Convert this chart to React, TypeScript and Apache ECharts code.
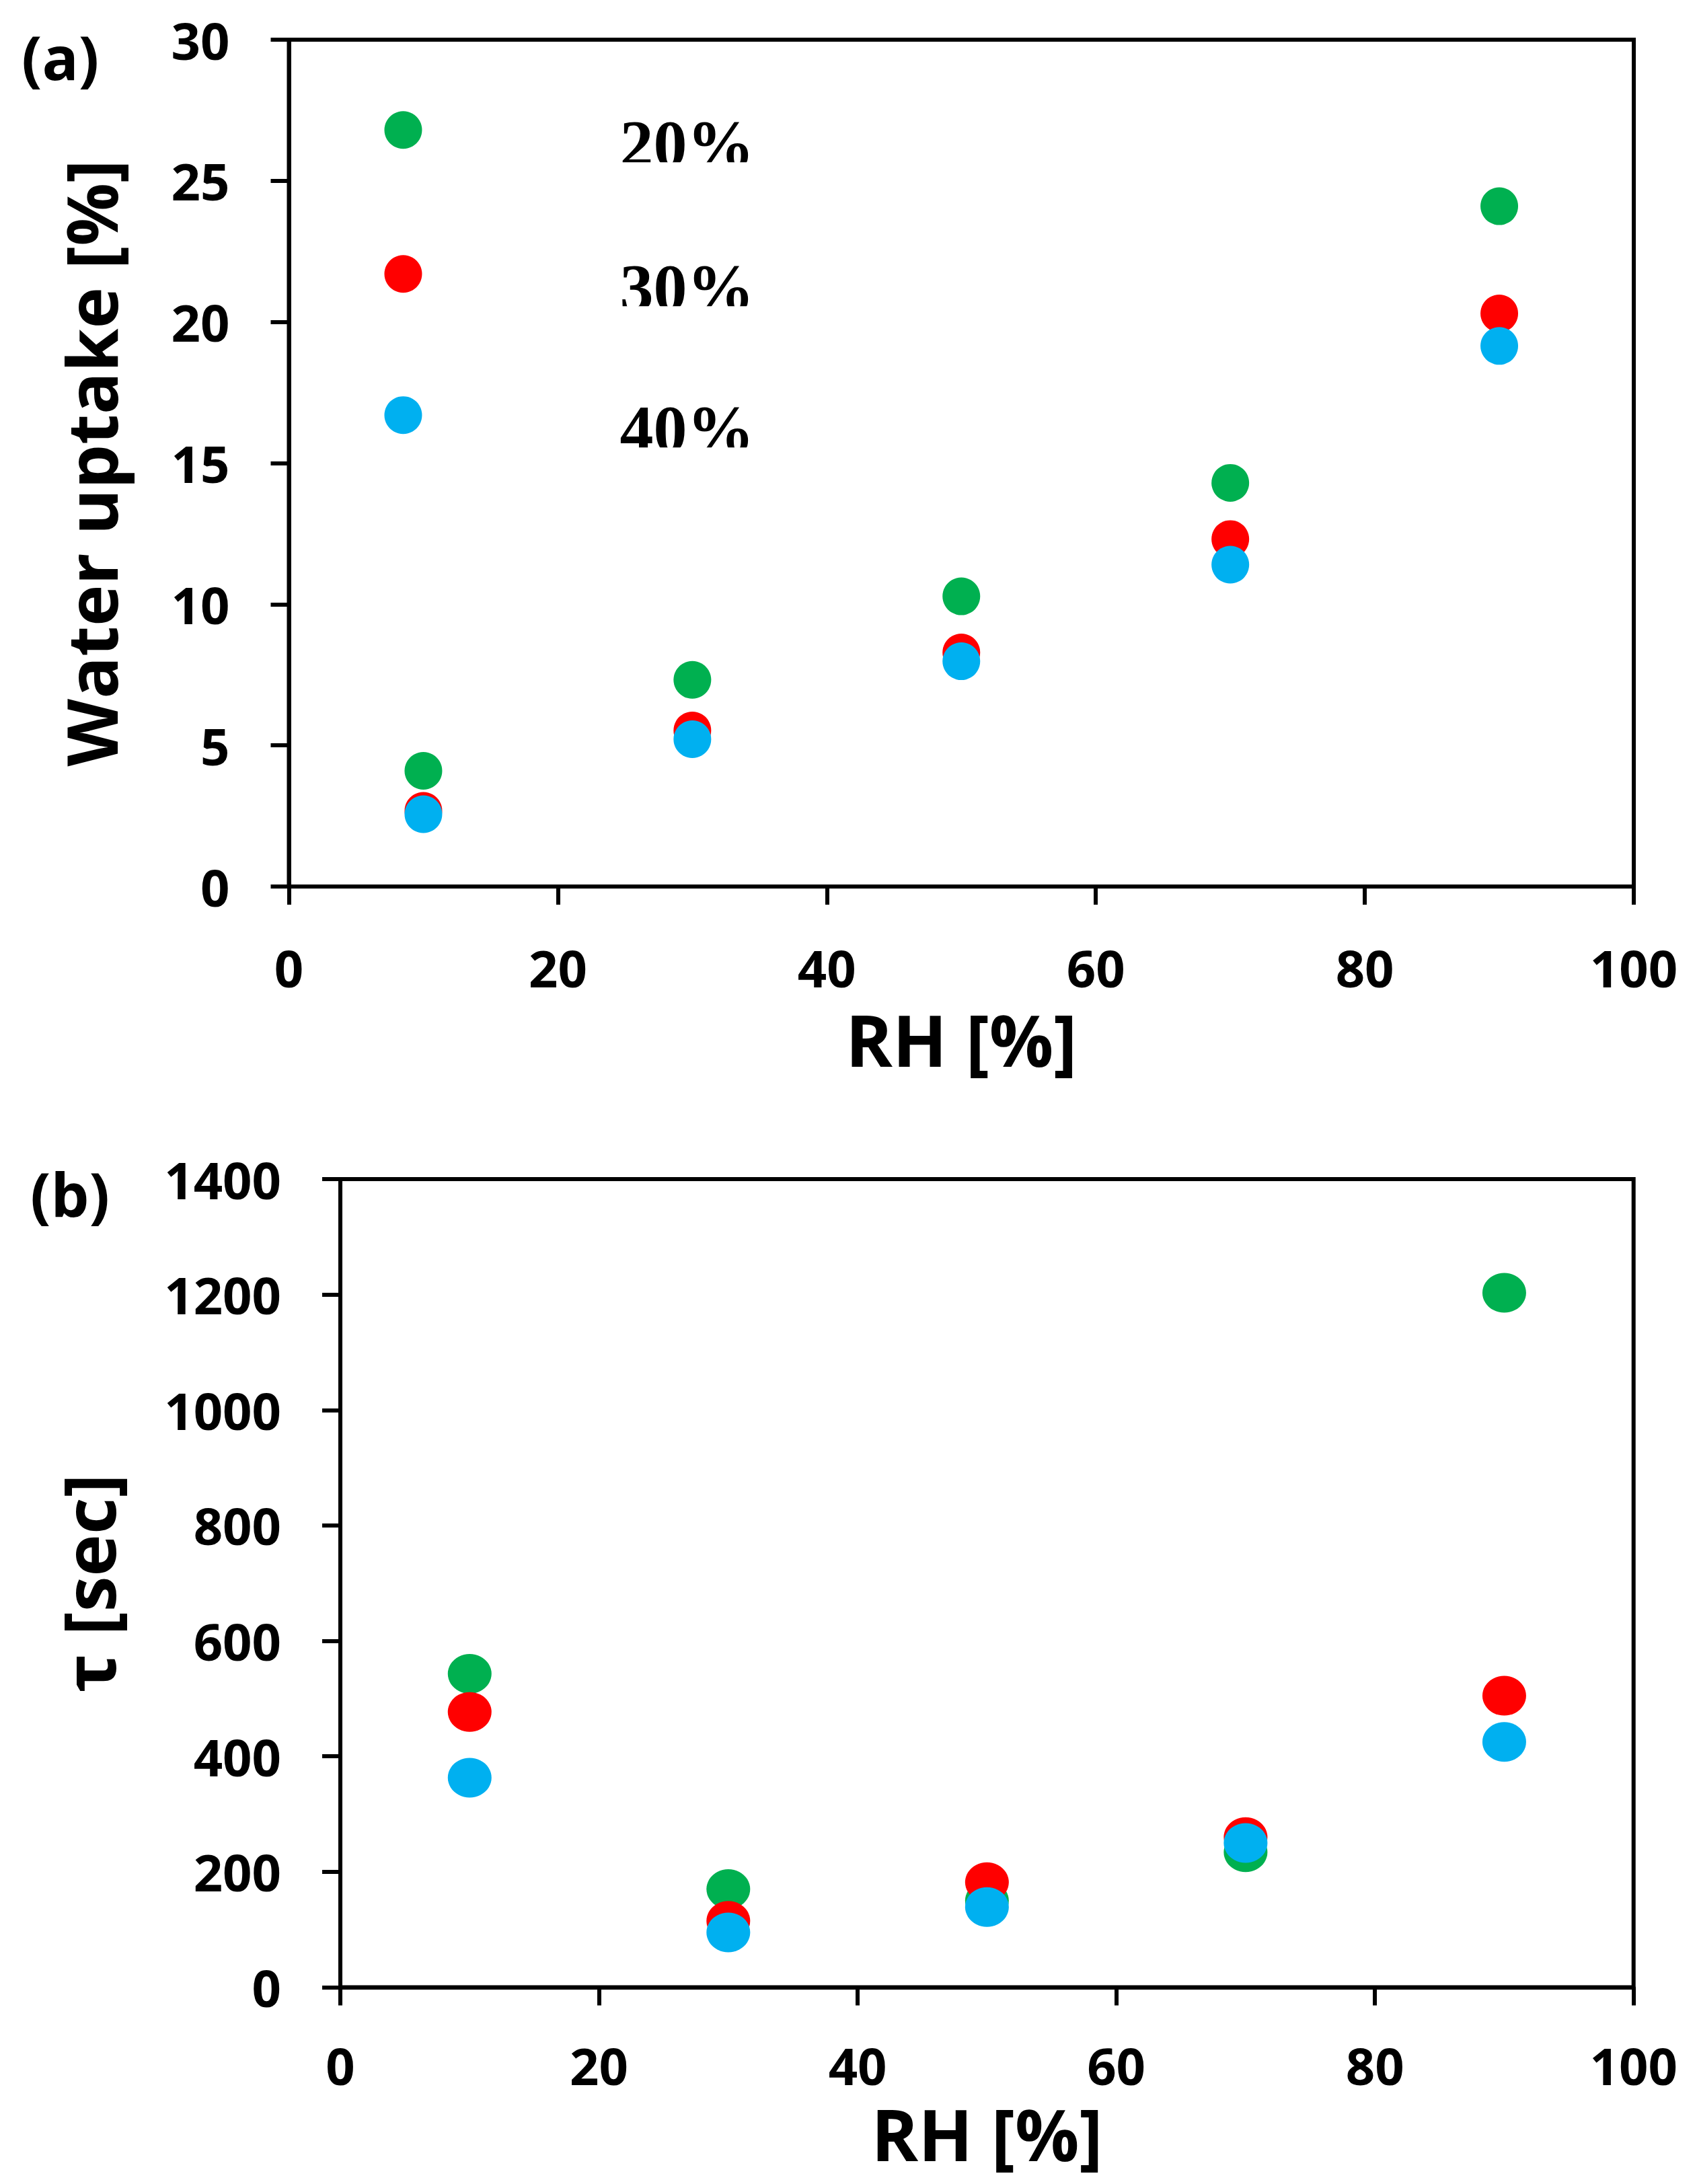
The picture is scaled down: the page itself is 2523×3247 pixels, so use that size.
import React, { useEffect, useRef } from "react";
import * as echarts from "echarts";

// ---- data ----
const rh = [10, 30, 50, 70, 90];
const seriesNames = ["20%", "30%", "40%"];
const seriesColors = ["#00B050", "#FF0000", "#00B0F0"];

// (a) water uptake [%]
const uptake20 = [4.1, 7.32, 10.28, 14.3, 24.1];
const uptake30 = [2.68, 5.53, 8.29, 12.31, 20.3];
const uptake40 = [2.56, 5.22, 7.98, 11.4, 19.15];

// (b) tau [sec]
const tau20 = [543, 170, 150, 234, 1203];
const tau30 = [477, 115, 182, 260, 505];
const tau40 = [363, 95, 139, 250, 425];

// in-plot legend markers of panel (a)
const legendRH = [8.5, 8.5, 8.5];
const legendUptake = [26.8, 21.7, 16.7];

const xTicks = { min: 0, max: 100, interval: 20 };
const yTicksA = { min: 0, max: 30, interval: 5 };
const yTicksB = { min: 0, max: 1400, interval: 200 };

const W = 2523;
const H = 3247;

const SANS = "'Open Sans', 'DejaVu Sans', sans-serif";
const SERIF = "'Liberation Serif', 'Times New Roman', serif";

function pairs(xs: number[], ys: number[]) {
  return xs.map((x, i) => [x, ys[i]]);
}

export default function App() {
  const ref = useRef<HTMLDivElement>(null);

  useEffect(() => {
    document.body.style.margin = "0";
    const el = ref.current!;
    const chart = echarts.init(el, null, { renderer: "svg", width: W, height: H });

    const axisLine = { show: true, lineStyle: { color: "#000", width: 6 } };
    const axisTick = { show: true, inside: false, length: 27, lineStyle: { color: "#000", width: 6 } };
    const tickLabel = (margin: number) => ({
      margin,
      color: "#000",
      fontFamily: SANS,
      fontWeight: "bold" as const,
      fontSize: 76,
      lineHeight: 76,
      formatter: (v: number) => String(v),
    });
    const nameStyle = {
      color: "#000",
      fontFamily: SANS,
      fontWeight: "bold" as const,
      fontSize: 106,
      lineHeight: 90,
    };

    const gridA = { left: 429.5, top: 59, width: 1999.5, height: 1259 };
    const gridB = { left: 506, top: 1753, width: 1922.7, height: 1201.5 };

    const dataA = [uptake20, uptake30, uptake40];
    const dataB = [tau20, tau30, tau40];

    const series: any[] = [];
    dataA.forEach((d, i) => {
      series.push({
        type: "scatter",
        name: seriesNames[i] + " (a)",
        xAxisIndex: 0,
        yAxisIndex: 0,
        symbol: "circle",
        symbolSize: 56,
        itemStyle: { color: seriesColors[i], opacity: 1 },
        data: pairs(rh, d),
        z: 3 + i,
      });
    });
    dataB.forEach((d, i) => {
      series.push({
        type: "scatter",
        name: seriesNames[i] + " (b)",
        xAxisIndex: 1,
        yAxisIndex: 1,
        symbol: "circle",
        symbolSize: [65, 59],
        itemStyle: { color: seriesColors[i], opacity: 1 },
        data: pairs(rh, d),
        z: 3 + i,
      });
    });
    // legend markers + labels drawn as a scatter series in panel (a)
    series.push({
      type: "scatter",
      name: "legend",
      xAxisIndex: 0,
      yAxisIndex: 0,
      symbol: "circle",
      symbolSize: 56,
      z: 3,
      itemStyle: { opacity: 1 },
      data: legendRH.map((x, i) => ({
        value: [x, legendUptake[i]],
        itemStyle: { color: seriesColors[i], opacity: 1 },
        label: { formatter: seriesNames[i] },
      })),
      label: {
        show: true,
        position: "right",
        distance: 294,
        offset: [0, 20],
        color: "#000",
        opacity: 1,
        fontFamily: SERIF,
        fontWeight: "bold",
        fontSize: 100,
      },
    });

    chart.setOption({
      animation: false,
      backgroundColor: "#fff",
      grid: [
        { ...gridA, show: true, borderColor: "#000", borderWidth: 6, backgroundColor: "transparent" },
        { ...gridB, show: true, borderColor: "#000", borderWidth: 6, backgroundColor: "transparent" },
      ],
      xAxis: [
        {
          type: "value",
          gridIndex: 0,
          ...xTicks,
          axisLine,
          axisTick,
          splitLine: { show: false },
          axisLabel: tickLabel(82),
          name: "RH [%]",
          nameLocation: "middle",
          nameGap: 182,
          nameTextStyle: nameStyle,
        },
        {
          type: "value",
          gridIndex: 1,
          ...xTicks,
          axisLine,
          axisTick,
          splitLine: { show: false },
          axisLabel: tickLabel(78),
          name: "RH [%]",
          nameLocation: "middle",
          nameGap: 172,
          nameTextStyle: nameStyle,
        },
      ],
      yAxis: [
        {
          type: "value",
          gridIndex: 0,
          ...yTicksA,
          axisLine,
          axisTick,
          splitLine: { show: false },
          axisLabel: tickLabel(88),
          name: "Water uptake [%]",
          nameLocation: "middle",
          nameGap: 250,
          nameRotate: 90,
          nameTextStyle: { ...nameStyle, fontSize: 104 },
        },
        {
          type: "value",
          gridIndex: 1,
          ...yTicksB,
          axisLine,
          axisTick,
          splitLine: { show: false },
          axisLabel: tickLabel(88),
          name: "τ [sec]",
          nameLocation: "middle",
          nameGap: 330,
          nameRotate: 90,
          nameTextStyle: nameStyle,
        },
      ],
      series,
    });

    // panel labels and the clipped bottoms of the legend texts
    const graphics: any[] = [
      {
        type: "text",
        x: 32,
        y: 84,
        z: 100,
        style: {
          text: "(a)",
          fill: "#000",
          fontFamily: SANS,
          fontWeight: "bold",
          fontSize: 90,
          align: "left",
          verticalAlign: "middle",
        },
      },
      {
        type: "text",
        x: 45,
        y: 1774,
        z: 100,
        style: {
          text: "(b)",
          fill: "#000",
          fontFamily: SANS,
          fontWeight: "bold",
          fontSize: 90,
          align: "left",
          verticalAlign: "middle",
        },
      },
    ];
    legendRH.forEach((x, i) => {
      const p = chart.convertToPixel({ gridIndex: 0 }, [x, legendUptake[i]]) as number[];
      graphics.push({
        type: "rect",
        z: 100,
        shape: { x: p[0] + 28 + 294 - 20, y: p[1] + 20 + 28, width: 260, height: 40 },
        style: { fill: "#fff" },
      });
    });
    chart.setOption({ graphic: graphics });

    return () => chart.dispose();
  }, []);

  return (
    <div
      ref={ref}
      style={{ position: "absolute", left: 0, top: 0, width: W, height: H, background: "#fff" }}
    />
  );
}
